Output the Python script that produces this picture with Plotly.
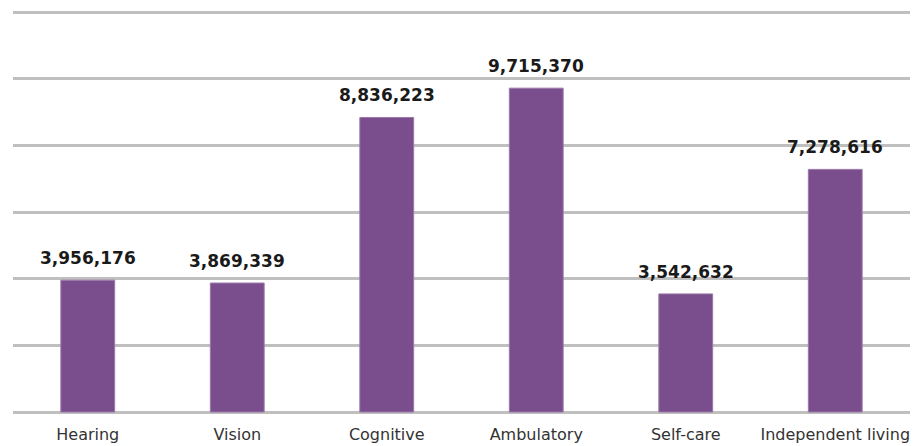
import plotly.graph_objects as go

categories = ["Hearing", "Vision", "Cognitive", "Ambulatory", "Self-care", "Independent living"]
values = [3956176, 3869339, 8836223, 9715370, 3542632, 7278616]
labels = [f"{v:,}" for v in values]
grid_vals = [0, 2000000, 4000000, 6000000, 8000000, 10000000, 12000000]

fig = go.Figure()
fig.add_trace(go.Bar(
    x=categories, y=values,
    marker=dict(color="#7A4E8C", line=dict(color="#9B78A8", width=1)),
    width=0.36, hoverinfo="skip",
))
for c, v, t in zip(categories, values, labels):
    fig.add_annotation(x=c, y=v, text=f"<b>{t}</b>", showarrow=False,
                       yanchor="bottom", yshift=10,
                       font=dict(family="DejaVu Sans", size=17, color="#1A1A1A"))

fig.update_layout(
    width=920, height=446,
    margin=dict(l=13, r=10, t=9, b=31, autoexpand=False),
    paper_bgcolor="white", plot_bgcolor="white",
    showlegend=False,
    font=dict(family="DejaVu Sans", size=16, color="#333333"),
    xaxis=dict(showgrid=False, showline=False, ticks="", automargin=False,
               tickfont=dict(size=16, color="#333333"), ticklabelstandoff=8),
    yaxis=dict(range=[-90000, 12090000], tickvals=grid_vals, automargin=False,
               showgrid=True, gridcolor="#BFBFBF",
               gridwidth=2.5, zeroline=False, showticklabels=False, fixedrange=True),
)
fig.write_html("out.html")
